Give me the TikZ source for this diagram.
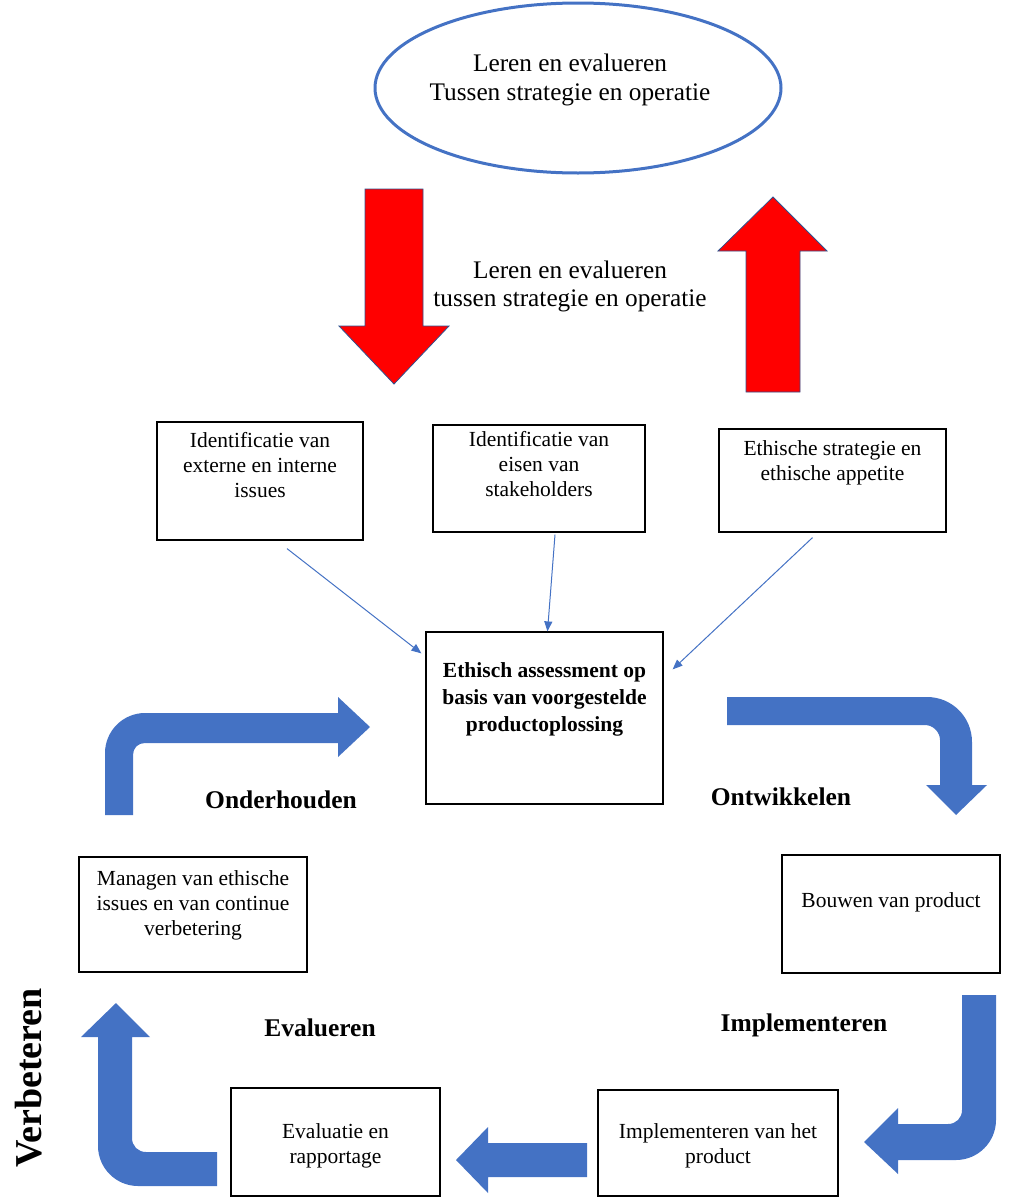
\documentclass[tikz,border=0pt]{standalone}
\usepackage{fontspec}
\setmainfont{Liberation Serif}
\usepackage{tikz}
\usetikzlibrary{shapes.geometric, arrows.meta, calc}
\usepackage{xcolor}
\definecolor{officeblue}{HTML}{4472C4}
\definecolor{outlineblue}{HTML}{2F528F}
\definecolor{brightred}{HTML}{FF0000}

\begin{document}
\begin{tikzpicture}[x=1pt, y=-1pt,
  box/.style={rectangle, draw, line width=1.2pt, inner sep=0pt},
  boxtext/.style={anchor=north, align=center, inner sep=2pt, font=\fontsize{21.5pt}{25pt}\selectfont},
  boldbox/.style={anchor=north, align=center, inner sep=2pt, font=\fontsize{21.5pt}{27pt}\selectfont\bfseries},
  steplabel/.style={font=\fontsize{25.5pt}{30pt}\selectfont\bfseries},
  sidelabel/.style={font=\fontsize{38pt}{44pt}\selectfont\bfseries, rotate=90},
  bigtext/.style={align=center, font=\fontsize{25.3pt}{29pt}\selectfont},
  thinarrow/.style={-{Triangle[length=10pt, width=8pt]}, officeblue, line width=1pt},
  bluearrow/.style={fill=officeblue},
  redarrow/.style={fill=brightred, draw=outlineblue, line width=0.8pt}
]
\useasboundingbox (0,0) rectangle (1019,1202);

% Top ellipse
\node[ellipse, draw=officeblue, line width=3pt, minimum width=406pt, minimum height=170pt] (learnloop) at (578,88) {};
\node[bigtext] (looptext) at (570,80) {Leren en evalueren\\Tussen strategie en operatie};

% Red arrows between strategy and operation
\draw[redarrow] (365,189) -- (423,189) -- (423,326) -- (449,326) -- (394,384) -- (339,326) -- (365,326) -- cycle;
\draw[redarrow] (746,392) -- (746,251) -- (718,251) -- (773,197) -- (827,251) -- (800,251) -- (800,392) -- cycle;
\node[bigtext, font=\fontsize{25.3pt}{28pt}\selectfont] (midtext) at (570,286) {Leren en evalueren\\tussen strategie en operatie};

% Input boxes
\node[box, minimum width=206pt, minimum height=118pt,
  label={[boxtext, yshift=-8.5pt]north:{Identificatie van\\externe en interne\\issues}}] (issues) at (260,481) {};
\node[box, minimum width=212pt, minimum height=107pt,
  label={[boxtext, yshift=-4.5pt]north:{Identificatie van\\eisen van\\stakeholders}}] (stake) at (539,478.5) {};
\node[box, minimum width=227pt, minimum height=103pt,
  label={[boxtext, yshift=-9.5pt]north:{Ethische strategie en\\ethische appetite}}] (appetite) at (832.5,480.5) {};

% Assessment
\node[box, minimum width=237pt, minimum height=172pt,
  label={[boldbox, yshift=-29pt]north:{Ethisch assessment op\\basis van voorgestelde\\productoplossing}}] (assess) at (544.5,718) {};

\draw[thinarrow] ($(issues.south)+(27,8)$) -- ($(assess.north west)+(-4,22)$);
\draw[thinarrow] ($(stake.south)+(16,2)$) -- ($(assess.north)+(3,0)$);
\draw[thinarrow] ($(appetite.south)+(-20,5)$) -- ($(assess.north east)+(9,38)$);

% Cycle boxes
\node[box, minimum width=228pt, minimum height=115pt,
  label={[boxtext, yshift=-11.5pt]north:{Managen van ethische\\issues en van continue\\verbetering}}] (manage) at (193,914.5) {};
\node[box, minimum width=218pt, minimum height=118pt,
  label={[boxtext, yshift=-35.5pt]north:{Bouwen van product}}] (build) at (891,914) {};
\node[box, minimum width=240pt, minimum height=106pt,
  label={[boxtext, yshift=-31.5pt]north:{Implementeren van het\\product}}] (implement) at (718,1143) {};
\node[box, minimum width=209pt, minimum height=108pt,
  label={[boxtext, yshift=-33.5pt]north:{Evaluatie en\\rapportage}}] (report) at (335.5,1142) {};

% Blue cycle arrows
\fill[bluearrow] (105,815) -- (105,753) .. controls (105,731) and (123,713) .. (145,713) -- (338,713) -- (338,697) -- (370,727) -- (338,757) -- (338,743) -- (145,743) .. controls (138,743) and (133,748) .. (133,755) -- (133,815) -- cycle;
\fill[bluearrow] (727,697) -- (927,697) .. controls (952,697) and (972,717) .. (972,742) -- (972,785) -- (987,785) -- (956,815) -- (926,785) -- (940,785) -- (940,740) .. controls (940,732) and (933,725) .. (925,725) -- (727,725) -- cycle;
\fill[bluearrow] (962,995) -- (996,995) -- (996,1120) .. controls (996,1142) and (978,1160) .. (956,1160) -- (898,1160) -- (898,1174) -- (864,1142) -- (898,1108) -- (898,1124) -- (948,1124) .. controls (956,1124) and (962,1118) .. (962,1110) -- cycle;
\fill[bluearrow] (587,1143) -- (488,1143) -- (488,1127) -- (456,1160) -- (488,1193) -- (488,1177) -- (587,1177) -- cycle;
\fill[bluearrow] (217,1152) -- (146,1152) .. controls (138,1152) and (132,1146) .. (132,1138) -- (132,1037) -- (150,1037) -- (116,1003) -- (81,1037) -- (98,1037) -- (98,1146) .. controls (98,1168) and (116,1186) .. (138,1186) -- (217,1186) -- cycle;

% Step labels
\node[steplabel] (maintain) at (281,800) {Onderhouden};
\node[steplabel] (develop) at (781,797) {Ontwikkelen};
\node[steplabel] (deploy) at (804,1025) {Implementeren};
\node[steplabel] (evaluate) at (320,1028) {Evalueren};
\node[sidelabel] (improve) at (29,1078) {Verbeteren};
\end{tikzpicture}
\end{document}
